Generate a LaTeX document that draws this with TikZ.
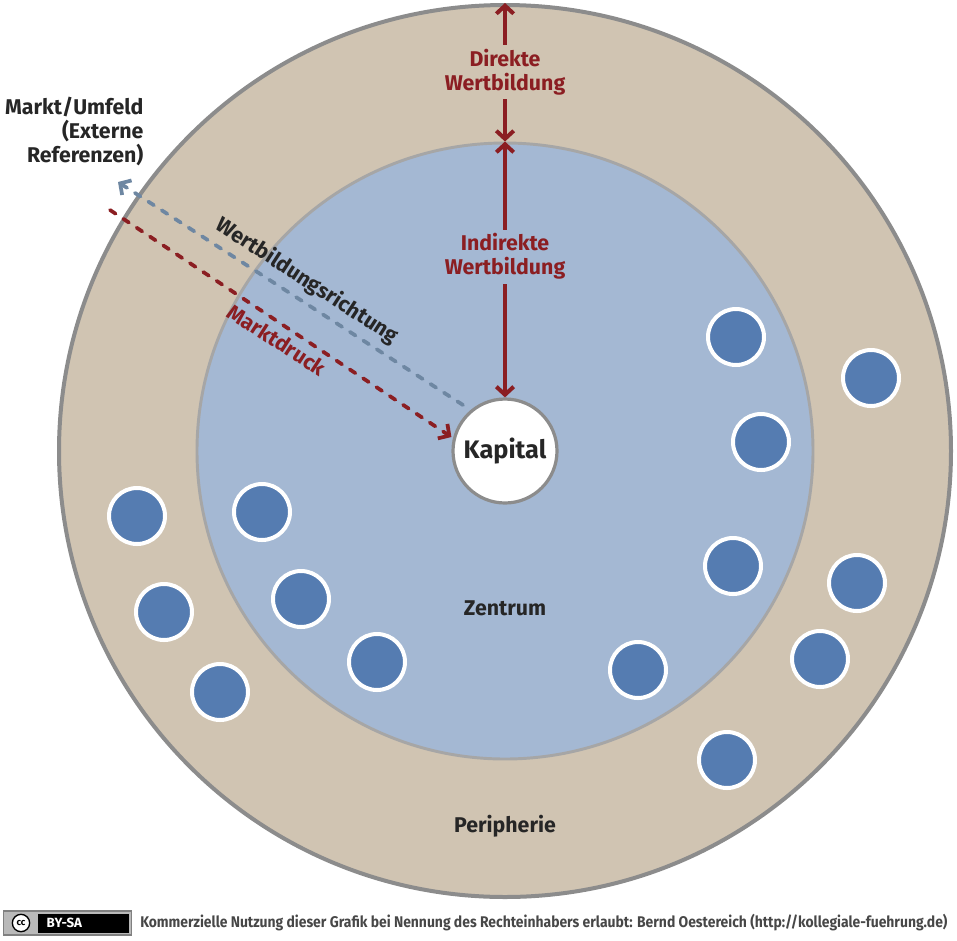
\documentclass[tikz,border=0pt]{standalone}
\usepackage{fontspec}
\setmainfont{Fira Sans}
\newfontfamily\footfont[FakeStretch=0.9]{Fira Sans}
\usetikzlibrary{arrows.meta}
\definecolor{ringtan}{RGB}{208,196,178}
\definecolor{ringgray}{RGB}{140,140,140}
\definecolor{zentblue}{RGB}{164,184,211}
\definecolor{zentgray}{RGB}{166,166,166}
\definecolor{dotblue}{RGB}{85,124,177}
\definecolor{wertred}{RGB}{139,30,34}
\definecolor{richtblue}{RGB}{110,135,162}
\definecolor{textdark}{RGB}{38,38,38}
\begin{document}
\begin{tikzpicture}[x=0.75pt,y=-0.75pt,
  lbl/.style={font=\fontsize{16}{18}\selectfont\bfseries,text=textdark,align=center,inner sep=1pt},
  redlbl/.style={lbl,text=wertred},
  wert/.style={wertred,line width=3pt,{Straight Barb[length=6pt,width=13pt]}-{Straight Barb[length=6pt,width=13pt]}},
  dashline/.style={line width=2.8pt,dash pattern=on 5pt off 7pt,line cap=round},
  dot/.style={circle,fill=dotblue,draw=white,line width=3pt,minimum size=42pt,inner sep=0pt}]
  \useasboundingbox (0,0) rectangle (957,940);
  \node[circle,fill=ringtan,draw=ringgray,line width=3pt,minimum size=669pt,inner sep=0pt] (periph) at (505,451) {};
  \node[circle,fill=zentblue,draw=zentgray,line width=2.2pt,minimum size=462pt,inner sep=0pt] (zentrum) at (505,451) {};
  \node[circle,fill=white,draw=ringgray,line width=2.4pt,minimum size=78pt,inner sep=0pt,font=\fontsize{19}{21}\selectfont\bfseries,text=textdark] (kapital) at (505,451) {Kapital};
  \foreach \x/\y in {137/516,164/612,220/692,262/512,301/599,377/662,736/337,871/378,761/442,733/566,857/583,820/659,638/670,727/760}
    \node[dot] at (\x,\y) {};
  \draw[wert] (periph.north) -- (zentrum.north)
    node[midway,redlbl,fill=ringtan,inner sep=3pt] {Direkte\\Wertbildung};
  \draw[wert] (zentrum.north) -- (kapital.north)
    node[pos=0.45,redlbl,fill=zentblue,inner sep=3pt] {Indirekte\\Wertbildung};
  \node[lbl] (zentlbl) at (505,608) {Zentrum};
  \node[lbl] (periphlbl) at (505,826) {Peripherie};
  \node[lbl,align=right,anchor=east] (markt) at (145,131) {Markt/Umfeld\\(Externe\\Referenzen)};
  \coordinate (richtstart) at (463,405);
  \coordinate (richtend) at (118,182);
  \coordinate (druckstart) at (110,210);
  \draw[dashline,richtblue,-{Straight Barb[length=6pt,width=13pt]}] (richtstart) -- (richtend);
  \draw[dashline,wertred,-{Straight Barb[length=6pt,width=13pt]}] (druckstart) -- (kapital.west|-451,437);
  \node[lbl,rotate=-33] (richtlbl) at (307,281) {Wertbildungsrichtung};
  \node[redlbl,rotate=-33] (drucklbl) at (277,340) {Marktdruck};
  \node[draw=gray,line width=1pt,fill=gray!55,minimum width=96pt,minimum height=18pt,inner sep=0pt,anchor=west] (badge) at (3,923) {};
  \fill[black] (38,913.5) rectangle (129,932.5);
  \node[circle,fill=white,draw=black,line width=1pt,minimum size=13pt,inner sep=0pt,font=\fontsize{7}{7}\selectfont\bfseries] (cc) at (21,923) {cc};
  \node[text=white,font=\fontsize{10}{10}\selectfont\bfseries,anchor=west] (bysa) at (42,923) {BY-SA};
  \node[anchor=west,text=textdark!85,font=\footfont\fontsize{11.6}{13}\selectfont\bfseries,inner sep=0pt] (lizenz) at (140,923) {Kommerzielle Nutzung dieser Grafik bei Nennung des Rechteinhabers erlaubt: Bernd Oestereich (http://kollegiale-fuehrung.de)};
\end{tikzpicture}
\end{document}
